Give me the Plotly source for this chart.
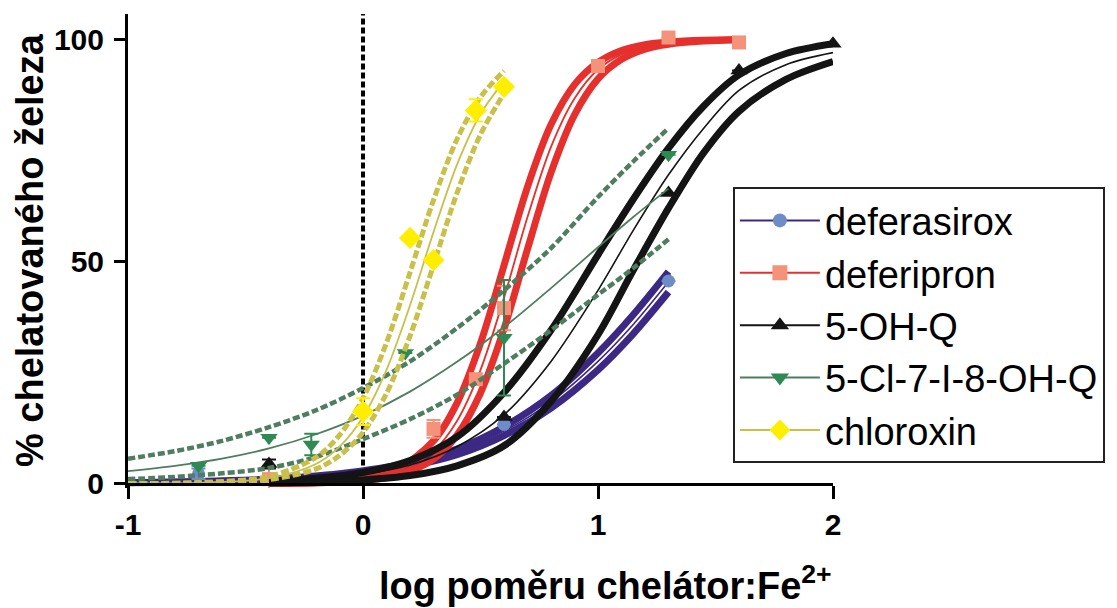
import plotly.graph_objects as go

# ---------------- data ----------------
series_names = ["deferasirox", "deferipron", "5-OH-Q", "5-Cl-7-I-8-OH-Q", "chloroxin"]

# measured points (log ratio chelator:Fe2+, % chelated iron, error)
deferasirox_x = [-0.7, 0.6, 1.3]
deferasirox_y = [2.2, 13.3, 45.6]
deferasirox_err = [1.2, 0.0, 0.0]

deferipron_x = [-0.4, 0.3, 0.48, 0.6, 1.0, 1.3, 1.6]
deferipron_y = [1.0, 12.3, 23.5, 39.5, 94.0, 100.4, 99.3]
deferipron_err = [3.0, 2.0, 0.0, 5.0, 0.0, 0.0, 0.0]

oh_q_x = [-0.4, 0.6, 1.3, 1.6, 2.0]
oh_q_y = [4.4, 15.0, 65.4, 93.0, 99.0]
oh_q_err = [1.0, 0.0, 0.0, 0.0, 0.0]

clioq_x = [-0.7, -0.4, -0.22, 0.18, 0.6, 1.3]
clioq_y = [4.0, 10.3, 8.8, 29.4, 32.8, 74.0]
clioq_err = [0.0, 0.0, 2.4, 0.0, 13.0, 0.0]

chloroxin_x = [0.0, 0.2, 0.3, 0.48, 0.6]
chloroxin_y = [16.2, 55.3, 50.3, 84.0, 89.3]
chloroxin_err = [3.0, 0.0, 0.0, 2.5, 0.0]

# fitted curves with confidence bands
deferasirox_cx = [-1, -0.7, -0.4, -0.1, 0.2, 0.4, 0.6, 0.8, 1.0, 1.15, 1.3]
deferasirox_fit = [0.19, 0.42, 0.91, 2.0, 4.3, 7.1, 11.8, 18.4, 27.5, 35.8, 45.4]
deferasirox_hi = [0.21, 0.46, 1.0, 2.2, 4.7, 7.8, 12.8, 19.8, 29.4, 38.0, 47.7]
deferasirox_lo = [0.17, 0.38, 0.83, 1.8, 3.95, 6.5, 10.8, 17.0, 25.6, 33.7, 43.1]

deferipron_cx = [-0.4, -0.2, 0, 0.15, 0.3, 0.4, 0.5, 0.6, 0.7, 0.8, 0.9, 1.0, 1.1, 1.2, 1.3, 1.45, 1.6]
deferipron_fit = [0.05, 0.2, 0.86, 2.5, 7.3, 14.1, 25.6, 41.8, 60.0, 75.8, 86.7, 93.2, 96.6, 98.4, 99.2, 99.7, 99.9]
deferipron_hi = [0.06, 0.26, 1.15, 3.4, 9.6, 18.1, 31.6, 49.1, 66.8, 80.8, 89.8, 94.8, 97.5, 98.8, 99.4, 99.8, 99.9]
deferipron_lo = [0.03, 0.15, 0.64, 1.9, 5.5, 10.9, 20.4, 34.8, 52.8, 70.0, 83.0, 91.1, 95.5, 97.8, 98.9, 99.6, 99.9]

oh_q_cx = [-0.4, -0.2, 0, 0.2, 0.4, 0.6, 0.8, 1.0, 1.15, 1.3, 1.45, 1.6, 1.8, 2.0]
oh_q_fit = [0.5, 1.0, 2.1, 4.2, 8.3, 15.5, 27.5, 43.5, 57.0, 69.5, 80.0, 88.5, 94.3, 97.0]
oh_q_hi = [0.6, 1.2, 2.5, 5.2, 10.5, 20.5, 34.5, 51.5, 64.0, 75.5, 85.0, 92.0, 96.8, 99.0]
oh_q_lo = [0.15, 0.35, 0.8, 1.8, 4.0, 8.5, 18.5, 33.5, 48.0, 62.0, 74.5, 83.8, 91.0, 95.0]

clioq_cx = [-1, -0.8, -0.6, -0.4, -0.2, 0, 0.2, 0.4, 0.6, 0.8, 1.0, 1.15, 1.3]
clioq_fit = [2.8, 4.0, 5.6, 7.9, 11.1, 15.3, 20.7, 27.4, 35.2, 44.0, 53.2, 60.0, 66.4]
clioq_hi = [5.6, 7.3, 9.6, 12.7, 16.5, 21.5, 27.5, 35.0, 43.5, 53.0, 64.5, 72.5, 80.0]
clioq_lo = [1.0, 1.5, 2.3, 3.5, 6.0, 10.0, 14.5, 20.0, 27.0, 34.5, 42.5, 48.5, 55.0]

chloroxin_cx = [-1, -0.7, -0.4, -0.2, -0.1, 0, 0.1, 0.2, 0.3, 0.4, 0.5, 0.6]
chloroxin_fit = [0.02, 0.16, 1.2, 4.4, 8.3, 15.0, 25.6, 40.1, 56.6, 71.8, 83.2, 90.6]
chloroxin_hi = [0.03, 0.22, 1.6, 5.9, 10.9, 19.2, 31.7, 47.5, 63.8, 77.5, 87.0, 92.9]
chloroxin_lo = [0.02, 0.12, 0.9, 3.3, 6.3, 11.5, 20.3, 33.2, 49.2, 65.4, 78.6, 87.8]

x_tick_vals = [-1, 0, 1, 2]
x_tick_labels = ["-1", "0", "1", "2"]
y_tick_vals = [0, 50, 100]
y_tick_labels = ["0", "50", "100"]

# ---------------- styling ----------------
FONT = "Liberation Sans, Arial, Helvetica, sans-serif"
Y_MIN, Y_MAX = -1.0, 105.7

styles = [
    dict(line="#3b2984", marker="#6e8cc8", symbol="circle", msize=13, band_w=7, band_dash="solid", thin_w=1.6),
    dict(line="#e6302d", marker="#f4927a", symbol="square", msize=14, band_w=7, band_dash="solid", thin_w=1.8),
    dict(line="#141414", marker="#141414", symbol="triangle-up", msize=15, band_w=7, band_dash="solid", thin_w=1.6),
    dict(line="#4f7d5f", marker="#2e8a52", symbol="triangle-down", msize=15, band_w=4.5, band_dash="7px,3px", thin_w=1.8),
    dict(line="#c9c04a", marker="#ffee00", symbol="diamond", msize=17, band_w=5, band_dash="8px,3px", thin_w=1.8),
]

series = [
    (deferasirox_x, deferasirox_y, deferasirox_err, deferasirox_cx, deferasirox_fit, deferasirox_hi, deferasirox_lo),
    (deferipron_x, deferipron_y, deferipron_err, deferipron_cx, deferipron_fit, deferipron_hi, deferipron_lo),
    (oh_q_x, oh_q_y, oh_q_err, oh_q_cx, oh_q_fit, oh_q_hi, oh_q_lo),
    (clioq_x, clioq_y, clioq_err, clioq_cx, clioq_fit, clioq_hi, clioq_lo),
    (chloroxin_x, chloroxin_y, chloroxin_err, chloroxin_cx, chloroxin_fit, chloroxin_hi, chloroxin_lo),
]

fig = go.Figure()

for name, st, (px, py, pe, cx, cf, ch, cl) in zip(series_names, styles, series):
    for band in (ch, cl):
        fig.add_trace(go.Scatter(
            x=cx, y=band, mode="lines", showlegend=False, hoverinfo="skip",
            line=dict(color=st["line"], width=st["band_w"], dash=st["band_dash"],
                      shape="spline", smoothing=0.9)))
    fig.add_trace(go.Scatter(
        x=cx, y=cf, mode="lines", showlegend=False, hoverinfo="skip",
        line=dict(color=st["line"], width=st["thin_w"], shape="spline", smoothing=0.9)))
    fig.add_trace(go.Scatter(
        x=px, y=py, mode="markers", showlegend=False, name=name, cliponaxis=False,
        marker=dict(color=st["marker"], symbol=st["symbol"], size=st["msize"], line=dict(width=0)),
        error_y=dict(type="data", array=pe, visible=True, color=st["marker"], thickness=2, width=7)))

# legend entries (line + marker sample)
for name, st in zip(series_names, styles):
    fig.add_trace(go.Scatter(
        x=[None], y=[None], mode="lines+markers", name=name,
        line=dict(color=st["line"], width=2),
        marker=dict(color=st["marker"], symbol=st["symbol"], size=st["msize"] + 1)))

# dotted reference line at log ratio 0
fig.add_shape(type="line", xref="x", yref="y", x0=0, x1=0, y0=0, y1=Y_MAX,
              line=dict(color="black", width=4, dash="6px,3px"), layer="below")

fig.update_layout(
    width=1117, height=608,
    margin=dict(l=128, r=284, t=13.5, b=119.7),
    paper_bgcolor="white", plot_bgcolor="white",
    font=dict(family=FONT, color="black"),
    xaxis=dict(range=[-1, 2], tickvals=x_tick_vals, ticktext=x_tick_labels,
               showline=True, linecolor="black", linewidth=3,
               ticks="outside", ticklen=13, tickwidth=3, tickcolor="black",
               showgrid=False, zeroline=False, anchor="free",
               position=(0 - Y_MIN) / (Y_MAX - Y_MIN), ticklabelstandoff=0,
               tickfont=dict(family=FONT, size=30, color="black", weight="bold")),
    yaxis=dict(range=[Y_MIN, Y_MAX], tickvals=y_tick_vals, ticktext=y_tick_labels,
               showline=True, linecolor="black", linewidth=3,
               ticks="outside", ticklen=11, tickwidth=3, tickcolor="black",
               showgrid=False, zeroline=False, ticklabelstandoff=4,
               tickfont=dict(family=FONT, size=30, color="black", weight="bold")),
    legend=dict(x=0.858, y=0.6346, xanchor="left", yanchor="top",
                bordercolor="#222222", borderwidth=2, bgcolor="white",
                font=dict(family=FONT, size=38, color="black"),
                itemwidth=80, tracegroupgap=0),
    showlegend=True,
)

fig.add_annotation(text="% chelatovaného železa", xref="paper", yref="paper",
                   x=(30 - 128) / 705, y=0.502, xanchor="center", yanchor="middle",
                   textangle=-90, showarrow=False,
                   font=dict(family=FONT, size=38, color="black", weight="bold"))
fig.add_annotation(text="log poměru chelátor:Fe<sup>2+</sup>", xref="paper", yref="paper",
                   x=(605 - 128) / 705, y=(488.3 - 583) / 474.8, xanchor="center", yanchor="middle",
                   showarrow=False,
                   font=dict(family=FONT, size=38, color="black", weight="bold"))

fig.write_html("out.html", config={"displayModeBar": False},
               post_script="document.body.style.margin='0px';")
